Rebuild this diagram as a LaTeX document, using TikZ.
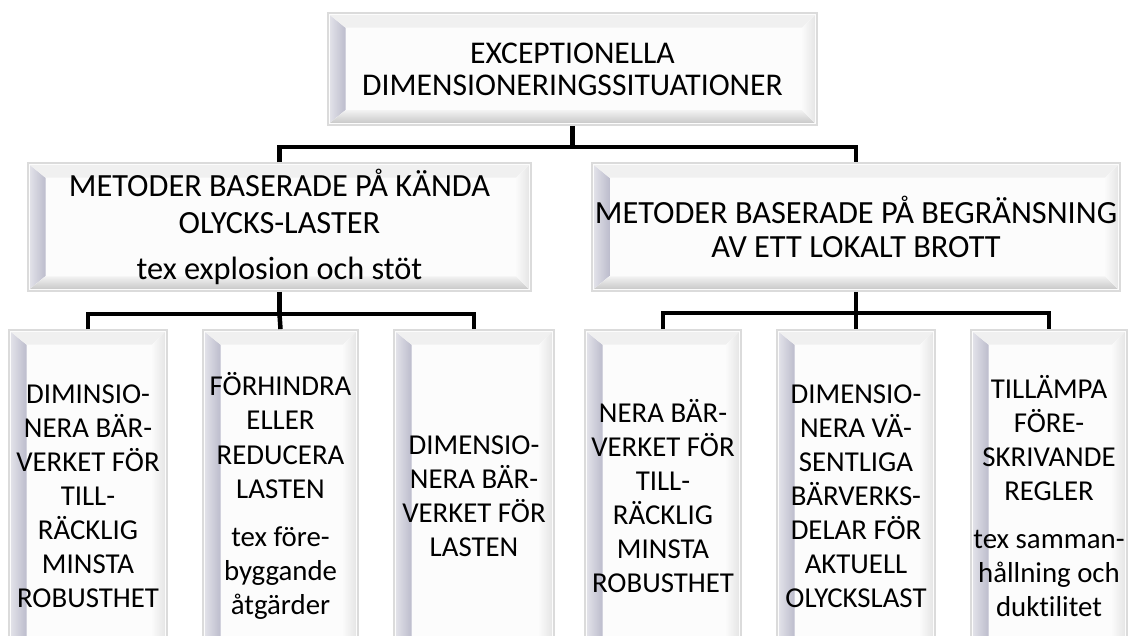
\documentclass[tikz,border=0pt]{standalone}
\usepackage{fontspec}
\setmainfont{Carlito}[Ligatures=NoCommon]
\definecolor{bevelside}{RGB}{188,188,204}
\begin{document}
\begin{tikzpicture}[x=0.025cm,y=-0.025cm,
				box/.style={draw=gray!28,line width=1.2pt,fill=gray!2,inner sep=0pt,align=center,
					path picture={
						\coordinate (nw) at ([shift={(1.5pt,-1.5pt)}]path picture bounding box.north west);
						\coordinate (ne) at ([shift={(-1.5pt,-1.5pt)}]path picture bounding box.north east);
						\coordinate (sw) at ([shift={(1.5pt,1.5pt)}]path picture bounding box.south west);
						\coordinate (se) at ([shift={(-1.5pt,1.5pt)}]path picture bounding box.south east);
						\fill[left color=bevelside!45,right color=bevelside] (nw) -- ([shift={(11pt,-9pt)}]nw) -- ([shift={(11pt,9pt)}]sw) -- (sw) -- cycle;
						\fill[top color=gray!10,bottom color=gray!42] (sw) -- ([shift={(11pt,9pt)}]sw) -- ([shift={(-9pt,9pt)}]se) -- (se) -- cycle;
						\fill[gray!12] (nw) -- ([shift={(11pt,-9pt)}]nw) -- ([shift={(-9pt,-9pt)}]ne) -- (ne) -- cycle;
						\fill[left color=gray!4,right color=gray!20] (ne) -- ([shift={(-9pt,-9pt)}]ne) -- ([shift={(-9pt,9pt)}]se) -- (se) -- cycle;
					}},
				leaf/.style={box,minimum height=8.3cm,font=\fontsize{20.5}{24.2}\selectfont},
				conn/.style={line width=3.2pt,line join=miter}]
\path[use as bounding box,clip] (0,0) rectangle (1128,636);
% top
\node[box,minimum width=12.225cm,minimum height=2.8cm,font=\fontsize{22.5}{22.7}\selectfont] (top) at (572.5,69)
	{EXCEPTIONELLA\\DIMENSIONERINGSSITUATIONER};
% second level
\node[box,minimum width=12.575cm,minimum height=3.2cm,font=\fontsize{23}{26.3}\selectfont] (known) at (279.5,227)
	{METODER BASERADE PÅ KÄNDA\\OLYCKS-LASTER\\[6pt]tex explosion och stöt};
\node[box,minimum width=13.2cm,minimum height=3.2cm,font=\fontsize{23}{24}\selectfont] (local) at (856,227)
	{METODER BASERADE PÅ BEGRÄNSNING\\AV ETT LOKALT BROTT};
% leaves
\node[leaf,minimum width=3.95cm] (k1) at (88,496)
	{DIMINSIO-\\NERA BÄR-\\VERKET FÖR\\TILL-\\RÄCKLIG\\MINSTA\\ROBUSTHET};
\node[leaf,minimum width=3.875cm] (k2) at (280.5,496)
	{FÖRHINDRA\\ELLER\\REDUCERA\\LASTEN\\[10pt]tex före-\\byggande\\åtgärder};
\node[leaf,minimum width=4cm] (k3) at (474,496)
	{DIMENSIO-\\NERA BÄR-\\VERKET FÖR\\LASTEN};
\node[leaf,minimum width=3.9cm] (l1) at (663,496)
	{NERA BÄR-\\VERKET FÖR\\TILL-\\RÄCKLIG\\MINSTA\\ROBUSTHET};
\node[leaf,minimum width=3.95cm] (l2) at (856,496)
	{DIMENSIO-\\NERA VÄ-\\SENTLIGA\\BÄRVERKS-\\DELAR FÖR\\AKTUELL\\OLYCKSLAST};
\node[leaf,minimum width=3.9cm] (l3) at (1049,496)
	{TILLÄMPA\\FÖRE-\\SKRIVANDE\\REGLER\\[10pt]tex samman-\\hållning och\\duktilitet};
% connectors
\coordinate (bus) at (572.5,147);
\coordinate (busk) at (279.5,314);
\coordinate (busl) at (856,313);
\draw[conn] (top.south) -- (bus);
\draw[conn] (known.north) |- (bus) -| (local.north);
\draw[conn] (known.south) -- (busk);
\draw[conn] (k1.north) |- (busk) -| (k3.north);
\draw[conn] (busk) -- (k2.north);
\draw[conn] (local.south) -- (busl);
\draw[conn] (l1.north) |- (busl) -| (l3.north);
\draw[conn] (busl) -- (l2.north);
\end{tikzpicture}
\end{document}
